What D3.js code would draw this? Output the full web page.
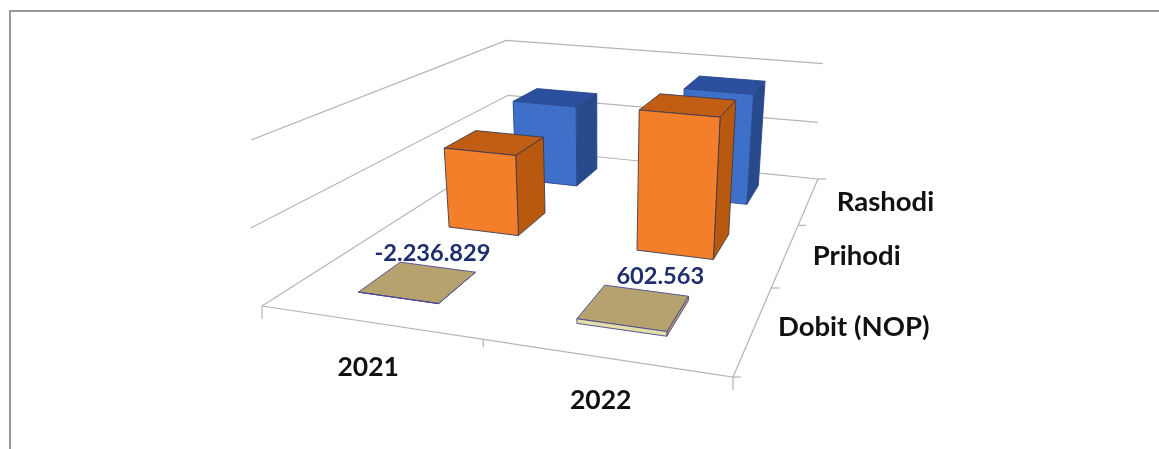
<!DOCTYPE html>
<html><head><meta charset="utf-8">
<script src="https://cdn.jsdelivr.net/npm/d3@7"></script>
<style>html,body{margin:0;background:#fff}svg{display:block;filter:blur(0.4px)}text{font-family:Lato,"Open Sans",sans-serif;font-weight:700}</style>
</head><body><svg id="c" width="1159" height="449"></svg>
<script>
const categories = ["2021", "2022"];
const seriesNames = ["Dobit (NOP)", "Prihodi", "Rashodi"];
const dobit = [-2236829, 602563];
const prihodi = [12000000, 20000000];
const rashodi = [13400000, 17800000];
const dataLabels = ["-2.236.829", "602.563"];
const gridTicks = [0, 10000000, 20000000];
const seriesValues = [dobit, prihodi, rashodi];
const palette = {
  "Dobit (NOP)": {front:"#E4DFA8", top:"#B6A26F", side:"#B39E68", stroke:"#4A4590"},
  "Prihodi": {front:"#F47F2A", top:"#C25E14", side:"#B9590F", stroke:"#3C3A50"},
  "Rashodi": {front:"#3E70C9", top:"#2B4F9E", side:"#264A8C", stroke:"#2A4A8C"}
};

// Camera: floor quad corners + vertical vanishing point
const FL=[262,306],FR=[733,377],BR=[818,179],BL=[510,148],VV=[600,2650],LIFT=-0.0445;
const dx1=FR[0]-BR[0],dx2=BL[0]-BR[0],sx=FL[0]-FR[0]+BR[0]-BL[0];
const dy1=FR[1]-BR[1],dy2=BL[1]-BR[1],sy=FL[1]-FR[1]+BR[1]-BL[1];
const den=dx1*dy2-dx2*dy1;
const g=(sx*dy2-dx2*sy)/den,hh=(dx1*sy-sx*dy1)/den;
const A=FR[0]-FL[0]+g*FR[0],B=BL[0]-FL[0]+hh*BL[0],C=FL[0];
const D=FR[1]-FL[1]+g*FR[1],E=BL[1]-FL[1]+hh*BL[1],F=FL[1];
const wBR=g+hh+1;
function project(u,v,h){
  const k=LIFT*wBR*h;
  const X=A*u+B*v+C+k*VV[0],Y=D*u+E*v+F+k*VV[1],W=g*u+hh*v+1+k;
  return [X/W,Y/W];
}

const x=d3.scaleBand(categories,[-0.005,0.995]).paddingInner(0.62).paddingOuter(0.31);
const z=d3.scaleBand(seriesNames,[0,1]).paddingInner(0.58).paddingOuter(0.29);
const y=d3.scaleLinear([0,20000000],[0,1]).clamp(true);

const svg=d3.select("#c");
// frame
svg.append("path").attr("d","M10,449V11H1159").attr("fill","none").attr("stroke","#9a9a9a").attr("stroke-width",2);

const gridColor="#b4b4b4";
const line=d3.line();
const grid=svg.append("g").attr("fill","none").attr("stroke",gridColor).attr("stroke-width",1.2);
gridTicks.forEach(t=>{
  const h=y(t);
  const end=h>0?0.985:1;
  grid.append("path").attr("d",line([project(0,h>0.9?0.03:0,h),project(0,1,h),project(end,1,h)]));
});
// floor edges and ticks
grid.append("path").attr("d",line([project(0,0,0),project(1,0,0),project(1,1,0)]));
d3.range(categories.length+1).map(i=>i/categories.length).forEach(u=>{
  const p=project(u,0,0);
  grid.append("path").attr("d",line([p,[p[0],p[1]+(u===0.5?8:13)]]));
});
d3.range(seriesNames.length+1).map(i=>i/seriesNames.length).forEach(v=>{
  const p=project(1,v,0);
  grid.append("path").attr("d",line([p,[p[0]+8,p[1]]]));
});

const poly=pts=>"M"+pts.map(p=>p.join(",")).join("L")+"Z";
const bars=svg.append("g");
[...seriesNames].reverse().forEach(s=>{
  const si=seriesNames.indexOf(s);
  categories.forEach((c,ci)=>{
    const val=seriesValues[si][ci],h=y(val),col=palette[s];
    const u0=x(c),u1=u0+x.bandwidth(),v0=z(s),v1=v0+z.bandwidth();
    const faces=[
      [[[u1,v0,0],[u1,v1,0],[u1,v1,h],[u1,v0,h]],col.side],
      [[[u0,v0,h],[u1,v0,h],[u1,v1,h],[u0,v1,h]],col.top],
      [[[u0,v0,0],[u1,v0,0],[u1,v0,h],[u0,v0,h]],col.front]
    ];
    const gb=bars.append("g").attr("class","bar");
    faces.forEach(([q,fill])=>{
      gb.append("path").attr("d",poly(q.map(p=>project(...p)))).attr("fill",fill)
        .attr("stroke",col.stroke).attr("stroke-width",0.9).attr("stroke-linejoin","round");
    });
  });
});

// data labels for the Dobit series
const labelOffset=[[14,-30],[26,-32]];
categories.forEach((c,ci)=>{
  const p=project(x(c)+x.bandwidth()/2,z(seriesNames[0])+z.bandwidth()/2,y(dobit[ci]));
  svg.append("text").attr("x",p[0]+labelOffset[ci][0]).attr("y",p[1]+labelOffset[ci][1])
    .attr("text-anchor","middle").attr("dominant-baseline","central")
    .attr("font-size",23.6).attr("fill","#1F2E6E").text(dataLabels[ci]);
});
// category labels
const catOffset=[[1,44],[-1,42]];
categories.forEach((c,ci)=>{
  const p=project(x(c)+x.bandwidth()/2,0,0);
  svg.append("text").attr("x",p[0]+catOffset[ci][0]).attr("y",p[1]+catOffset[ci][1])
    .attr("text-anchor","middle").attr("dominant-baseline","central")
    .attr("font-size",26.5).attr("fill","#111").text(c);
});
// series labels
const seriesOffset=[[24,-3],[27,0],[28,0]];
seriesNames.forEach((s,i)=>{
  const p=project(1,z(s)+z.bandwidth()/2,0);
  svg.append("text").attr("x",p[0]+seriesOffset[i][0]).attr("y",p[1]+seriesOffset[i][1]).attr("dominant-baseline","central")
    .attr("font-size",27.5).attr("fill","#111").text(s);
});
</script></body></html>
